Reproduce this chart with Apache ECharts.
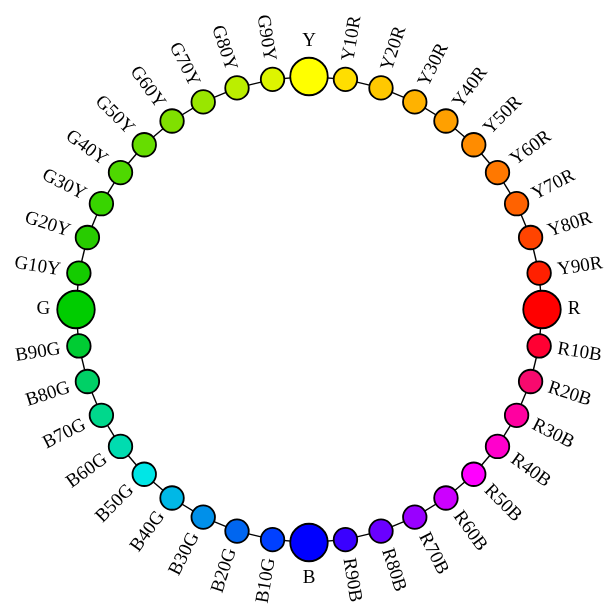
<!DOCTYPE html>
<html><head><meta charset="utf-8">
<script src="https://cdn.jsdelivr.net/npm/echarts@6/dist/echarts.min.js"></script>
<style>html,body{margin:0;padding:0;background:#fff}#c{width:608px;height:605px}</style>
</head><body><div id="c"></div>
<script>
// NCS hue circle: node names in clockwise order starting at top
const names = ['Y','Y10R','Y20R','Y30R','Y40R','Y50R','Y60R','Y70R','Y80R','Y90R',
  'R','R10B','R20B','R30B','R40B','R50B','R60B','R70B','R80B','R90B',
  'B','B10G','B20G','B30G','B40G','B50G','B60G','B70G','B80G','B90G',
  'G','G10Y','G20Y','G30Y','G40Y','G50Y','G60Y','G70Y','G80Y','G90Y'];
const colors = ['#ffff00','#ffde00','#ffc800','#ffb200','#ffa000','#ff8c00','#ff7800','#ff6200','#ff4400','#ff2000',
  '#ff0000','#ff0033','#f70a6e','#ff00a0','#ff00cc','#ff00ff','#cc00ff','#9900ff','#6a00ff','#3a00ff',
  '#0000ff','#0040ff','#0066f0','#0090ea','#00b8e6','#00e6e6','#00dcb0','#00d88c','#00d066','#00cc33',
  '#00cc00','#14cc00','#28cc00','#38d400','#4ed800','#66dd00','#80e000','#99e600','#bbee00','#ddf500'];
const primaries = ['Y','R','B','G'];
const ringValue = 1; // every hue sits on the same ring

const SMALL = 23.5, BIG = 37.5, GAP = 6;
const FONT = { color: '#000', fontFamily: '"Liberation Serif", "Times New Roman", serif', fontSize: 19 };
const n = names.length;

const nodes = names.map(function (name, i) {
  const isPrimary = primaries.indexOf(name) >= 0;
  const s = isPrimary ? BIG : SMALL;
  const theta = -90 + 360 * i / n;            // screen angle, clockwise from +x
  const t = theta * Math.PI / 180;
  const c = Math.cos(t), sn = Math.sin(t);
  const r0 = s / 2 + 1 + GAP;
  let label;
  if (isPrimary) {
    label = {
      rotate: 0,
      offset: [r0 * c, r0 * sn],
      align: c > 0.5 ? 'left' : (c < -0.5 ? 'right' : 'center'),
      verticalAlign: sn > 0.5 ? 'top' : (sn < -0.5 ? 'bottom' : 'middle')
    };
  } else if (c > 0) {
    label = { rotate: -theta, offset: [r0, 0], align: 'left', verticalAlign: 'middle' };
  } else {
    label = { rotate: -(theta - 180), offset: [-r0, 0], align: 'right', verticalAlign: 'middle' };
  }
  label.position = ['50%', '50%'];
  label.show = true;
  Object.assign(label, FONT);
  return {
    name: name,
    value: [ringValue, i],
    symbolSize: s,
    itemStyle: { color: colors[i] },
    label: label
  };
});
const links = names.map(function (name, i) {
  return { source: name, target: names[(i + 1) % n] };
});

const chart = echarts.init(document.getElementById('c'));
chart.setOption({
  backgroundColor: '#ffffff',
  animation: false,
  polar: { center: [309, 309.5], radius: 233 },
  angleAxis: { type: 'category', data: names, startAngle: 90, clockwise: true, boundaryGap: false, show: false },
  radiusAxis: { type: 'value', min: 0, max: 1, show: false },
  series: [{
    type: 'graph',
    coordinateSystem: 'polar',
    polarIndex: 0,
    data: nodes,
    links: links,
    symbol: 'circle',
    itemStyle: { borderColor: '#000', borderWidth: 1.8 },
    lineStyle: { color: '#000', width: 1.4, opacity: 1, curveness: 0 },
    label: Object.assign({ show: true }, FONT),
    emphasis: { disabled: true }
  }]
});
</script>
</body></html>
